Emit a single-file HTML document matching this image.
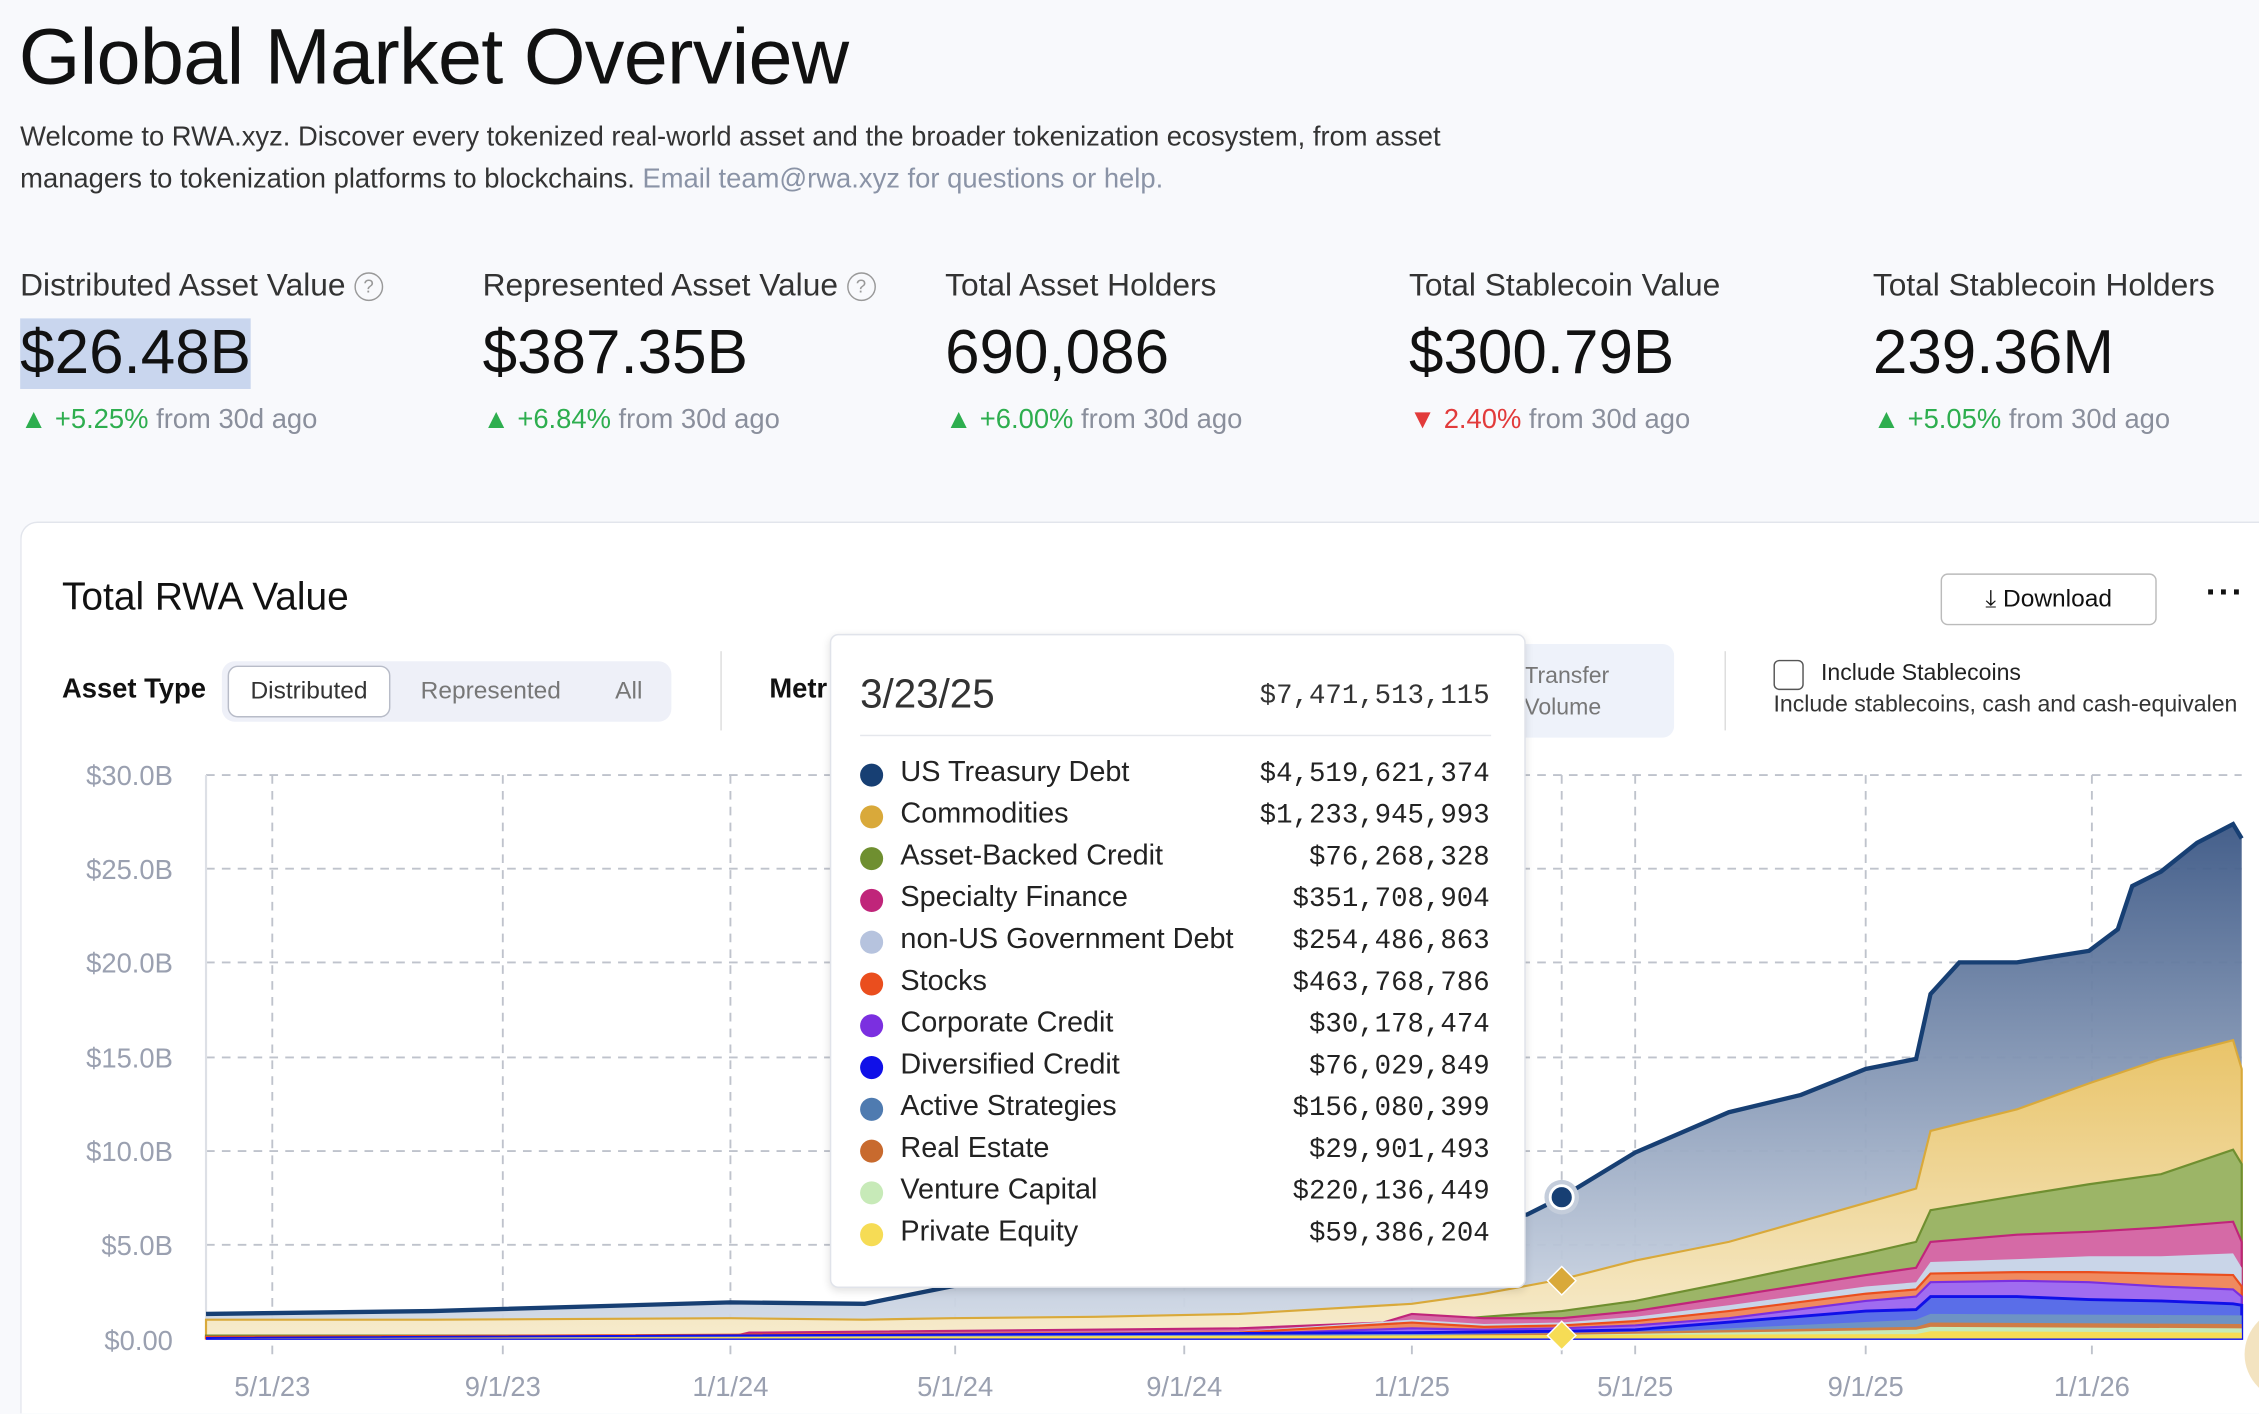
<!DOCTYPE html>
<html><head><meta charset="utf-8"><style>
html,body{margin:0;padding:0;width:2259px;height:1414px;overflow:hidden;background:#f8f9fc;}
#w{position:absolute;left:0;top:0;width:1568px;height:981px;overflow:hidden;transform:scale(1.44069);transform-origin:0 0;font-family:"Liberation Sans",sans-serif;color:#111;}
.a{position:absolute;white-space:nowrap;}
.lab{font-size:22px;color:#333;}
.val{font-size:43px;color:#111;}
.chg{font-size:19px;color:#8a8f9c;}
.g{color:#2eae4f}.r{color:#e23b3b}
.q{display:inline-block;width:18px;height:18px;border:1.5px solid #999;border-radius:50%;font-size:13px;text-align:center;line-height:18px;color:#999;vertical-align:2px;margin-left:6px}
.row{position:absolute;left:597px;width:440px;height:26px;font-size:20px;color:#222;white-space:nowrap;}
.row i{position:absolute;left:0;top:5px;width:16px;height:16px;border-radius:50%}
.row span{position:absolute;left:28px;top:0}
.row b{position:absolute;left:200px;top:1px;width:237px;text-align:right;font-weight:normal;font-family:"Liberation Mono",monospace;font-size:19px}
</style></head><body><div id="w">
<div class="a" style="left:13px;top:7px;font-size:55px;letter-spacing:-0.5px">Global Market Overview</div>
<div class="a" style="left:14px;top:81px;font-size:19px;color:#333;line-height:29px">Welcome to RWA.xyz. Discover every tokenized real-world asset and the broader tokenization ecosystem, from asset<br>managers to tokenization platforms to blockchains. <span style="color:#8a93a6">Email team@rwa.xyz for questions or help.</span></div>

<div class="a lab" style="left:14px;top:185px">Distributed Asset Value<span class="q">?</span></div>
<div class="a val" style="left:14px;top:221px;background:#c9d6ee">$26.48B</div>
<div class="a chg" style="left:14px;top:281px"><span class="g">▲ +5.25%</span> from 30d ago</div>
<div class="a lab" style="left:335px;top:185px">Represented Asset Value<span class="q">?</span></div>
<div class="a val" style="left:335px;top:221px">$387.35B</div>
<div class="a chg" style="left:335px;top:281px"><span class="g">▲ +6.84%</span> from 30d ago</div>
<div class="a lab" style="left:656px;top:185px">Total Asset Holders</div>
<div class="a val" style="left:656px;top:221px">690,086</div>
<div class="a chg" style="left:656px;top:281px"><span class="g">▲ +6.00%</span> from 30d ago</div>
<div class="a lab" style="left:978px;top:185px">Total Stablecoin Value</div>
<div class="a val" style="left:978px;top:221px">$300.79B</div>
<div class="a chg" style="left:978px;top:281px"><span class="r">▼ 2.40%</span> from 30d ago</div>
<div class="a lab" style="left:1300px;top:185px">Total Stablecoin Holders</div>
<div class="a val" style="left:1300px;top:221px">239.36M</div>
<div class="a chg" style="left:1300px;top:281px"><span class="g">▲ +5.05%</span> from 30d ago</div>

<div class="a" style="left:14px;top:362px;width:1553px;height:619px;background:#fff;border-left:1px solid #e2e5ec;border-top:1px solid #e2e5ec;border-top-left-radius:12px"></div>
<div class="a" style="left:43px;top:399px;font-size:27px">Total RWA Value</div>
<div class="a" style="left:1347px;top:398px;width:148px;height:34px;border:1.5px solid #bbb;border-radius:5px;background:#fff;font-size:17px;line-height:34px;text-align:center">⤓ Download</div>
<div class="a" style="left:1531px;top:398px;font-size:24px;font-weight:bold;letter-spacing:1px">···</div>
<div class="a" style="left:43px;top:468px;font-size:19px;font-weight:bold">Asset Type</div>
<div class="a" style="left:154px;top:459px;width:312px;height:42px;background:#eef0f8;border-radius:9px"></div>
<div class="a" style="left:158px;top:462px;width:111px;height:34px;background:#fff;border:1.5px solid #b8bcc8;border-radius:7px;font-size:17px;line-height:34px;text-align:center;color:#333">Distributed</div>
<div class="a" style="left:292px;top:470px;font-size:17px;color:#777">Represented</div>
<div class="a" style="left:427px;top:470px;font-size:17px;color:#777">All</div>
<div class="a" style="left:500px;top:452px;width:1px;height:55px;background:#ddd"></div>
<div class="a" style="left:534px;top:468px;font-size:19px;font-weight:bold">Metr</div>
<div class="a" style="left:1040px;top:447px;width:122px;height:65px;background:#eef2fa;border-radius:8px"></div>
<div class="a" style="left:1058px;top:459px;font-size:16px;color:#777;line-height:22px">Transfer<br>Volume</div>
<div class="a" style="left:1197px;top:452px;width:1px;height:55px;background:#ddd"></div>
<div class="a" style="left:1231px;top:458px;width:19px;height:19px;border:1.5px solid #555;border-radius:4px"></div>
<div class="a" style="left:1264px;top:459px;font-size:16px;color:#222">Include Stablecoins</div>
<div class="a" style="left:1231px;top:481px;font-size:16px;color:#333">Include stablecoins, cash and cash-equivalen</div>

<svg class="a" style="left:0;top:0" width="1568" height="981">
<defs>
<linearGradient id="nv" x1="0" y1="0" x2="0" y2="1"><stop offset="0" stop-color="#3b5785"/><stop offset="1" stop-color="#d5dde9"/></linearGradient>
<linearGradient id="gd" x1="0" y1="0" x2="0" y2="1"><stop offset="0" stop-color="#e9c469"/><stop offset="1" stop-color="#f6ebcd"/></linearGradient>
</defs>
<g stroke="#bfc3cc" stroke-width="1.3" stroke-dasharray="6,5">
<line x1="143" y1="538" x2="1556" y2="538"/><line x1="143" y1="603" x2="1556" y2="603"/><line x1="143" y1="668" x2="1556" y2="668"/><line x1="143" y1="734" x2="1556" y2="734"/><line x1="143" y1="799" x2="1556" y2="799"/><line x1="143" y1="864" x2="1556" y2="864"/>
<line x1="189" y1="538" x2="189" y2="945"/><line x1="349" y1="538" x2="349" y2="945"/><line x1="507" y1="538" x2="507" y2="945"/><line x1="663" y1="538" x2="663" y2="945"/><line x1="822" y1="538" x2="822" y2="945"/><line x1="980" y1="538" x2="980" y2="945"/><line x1="1135" y1="538" x2="1135" y2="945"/><line x1="1295" y1="538" x2="1295" y2="945"/><line x1="1452" y1="538" x2="1452" y2="945"/><line x1="1084" y1="538" x2="1084" y2="945"/>
</g>
<line x1="143" y1="538" x2="143" y2="930" stroke="#dde0e6" stroke-width="1.5"/>
<polygon fill="url(#nv)" opacity="0.95" points="143,912 300,910 507,904 600,905 660,893 760,875 860,862 980,852 1030,846 1060,843 1084,831 1135,800 1200,772 1250,760 1295,742 1330,735 1340,690 1360,668 1400,668 1450,660 1470,645 1480,615 1500,605 1525,585 1550,572 1556,582 1556,929 143,929"/>
<polyline fill="none" stroke="#173f73" stroke-width="3" points="143,912 300,910 507,904 600,905 660,893 760,875 860,862 980,852 1030,846 1060,843 1084,831 1135,800 1200,772 1250,760 1295,742 1330,735 1340,690 1360,668 1400,668 1450,660 1470,645 1480,615 1500,605 1525,585 1550,572 1556,582"/>
<polygon fill="url(#gd)" stroke="#d9a93a" stroke-width="1.5" points="143,916 300,916 507,915 600,916 660,915 760,914 860,912 980,905 1030,898 1084,888 1135,875 1200,862 1295,835 1330,825 1340,785 1400,770 1450,752 1500,735 1550,722 1556,742 1556,929 143,929"/>
<polygon fill="#9cb567" stroke="#6f8f30" stroke-width="1.5" points="143,927 507,927 660,926 860,925 980,918 1030,914 1084,910 1135,903 1200,890 1295,870 1330,862 1340,840 1400,830 1450,822 1500,815 1550,798 1556,808 1556,929 143,929"/>
<polygon fill="#d56aa6" stroke="#c0257a" stroke-width="1.5" points="143,928 507,928 520,925 860,922 960,918 980,912 1030,915 1084,915 1135,910 1200,900 1295,885 1330,880 1340,862 1400,857 1450,855 1500,852 1550,848 1556,862 1556,929 143,929"/>
<polygon fill="#c9d5e8" points="143,928 507,928 520,926 860,924 980,916 1030,919 1084,918 1135,914 1200,906 1295,893 1330,890 1340,876 1400,874 1450,872 1500,872 1550,870 1556,880 1556,929 143,929"/>
<polygon fill="#f08a5f" stroke="#ea4e1e" stroke-width="1.5" points="143,928 860,925 980,918 1030,921 1084,920 1135,917 1200,910 1295,898 1330,895 1340,884 1400,883 1450,883 1500,884 1550,885 1556,893 1556,929 143,929"/>
<polygon fill="#a06cf0" stroke="#7b2fe0" stroke-width="1.5" points="143,929 860,926 980,922 1030,923 1084,922 1135,920 1200,915 1295,903 1330,900 1340,890 1400,889 1450,890 1500,893 1550,895 1556,900 1556,929 143,929"/>
<polygon fill="#5a6ee8" stroke="#1010e8" stroke-width="2" points="143,929 980,925 1084,924 1135,923 1295,910 1330,909 1340,900 1400,900 1450,902 1500,903 1550,905 1556,906 1556,929 143,929"/>
<polygon fill="#6e93c4" points="143,929 980,926 1135,925 1330,916 1340,912 1556,913 1556,929 143,929"/>
<polygon fill="#cf7d45" points="143,929 980,927 1330,921 1340,918 1556,919 1556,929 143,929"/>
<polygon fill="#c7eab8" points="143,929 980,928 1330,923 1340,921 1556,922 1556,929 143,929"/>
<polygon fill="#f6dc55" points="143,929 1330,926 1340,924 1556,925 1556,929 143,929"/>
<circle cx="1084" cy="831" r="12" fill="#c4cddb"/><circle cx="1084" cy="831" r="8" fill="#173f73" stroke="#fff" stroke-width="2"/>
<rect x="1077" y="882" width="14" height="14" transform="rotate(45 1084 889)" fill="#d9a93a" stroke="#fff"/>
<rect x="1077" y="920" width="14" height="14" transform="rotate(45 1084 927)" fill="#f6dc55" stroke="#fff"/>
<g font-family="Liberation Sans" font-size="19" fill="#9aa0b0" text-anchor="end">
<text x="120" y="545">$30.0B</text><text x="120" y="610">$25.0B</text><text x="120" y="675">$20.0B</text><text x="120" y="741">$15.0B</text><text x="120" y="806">$10.0B</text><text x="120" y="871">$5.0B</text><text x="120" y="937">$0.00</text>
</g>
<g font-family="Liberation Sans" font-size="19" fill="#9aa0b0" text-anchor="middle">
<text x="189" y="969">5/1/23</text><text x="349" y="969">9/1/23</text><text x="507" y="969">1/1/24</text><text x="663" y="969">5/1/24</text><text x="822" y="969">9/1/24</text><text x="980" y="969">1/1/25</text><text x="1135" y="969">5/1/25</text><text x="1295" y="969">9/1/25</text><text x="1452" y="969">1/1/26</text>
</g>
<circle cx="1590" cy="940" r="32" fill="#f3e3c0"/>
</svg>

<div class="a" style="left:576px;top:440px;width:481px;height:452px;background:#fff;border:1px solid #e0e3ea;border-radius:6px;box-shadow:0 2px 6px rgba(0,0,0,0.12)"></div>
<div class="a" style="left:597px;top:466px;font-size:28px;color:#333">3/23/25</div>
<div class="a" style="left:800px;top:472px;width:234px;text-align:right;font-family:'Liberation Mono',monospace;font-size:19px;color:#333">$7,471,513,115</div>
<div class="a" style="left:597px;top:510px;width:438px;height:1px;background:#e5e7ec"></div>
<div class="row" style="top:525px"><i style="background:#173f73"></i><span>US Treasury Debt</span><b>$4,519,621,374</b></div>
<div class="row" style="top:554px"><i style="background:#d9a93a"></i><span>Commodities</span><b>$1,233,945,993</b></div>
<div class="row" style="top:583px"><i style="background:#6f8f30"></i><span>Asset-Backed Credit</span><b>$76,268,328</b></div>
<div class="row" style="top:612px"><i style="background:#c0257a"></i><span>Specialty Finance</span><b>$351,708,904</b></div>
<div class="row" style="top:641px"><i style="background:#b6c3de"></i><span>non-US Government Debt</span><b>$254,486,863</b></div>
<div class="row" style="top:670px"><i style="background:#ea4e1e"></i><span>Stocks</span><b>$463,768,786</b></div>
<div class="row" style="top:699px"><i style="background:#7b2fe0"></i><span>Corporate Credit</span><b>$30,178,474</b></div>
<div class="row" style="top:728px"><i style="background:#1010e8"></i><span>Diversified Credit</span><b>$76,029,849</b></div>
<div class="row" style="top:757px"><i style="background:#4f7bb0"></i><span>Active Strategies</span><b>$156,080,399</b></div>
<div class="row" style="top:786px"><i style="background:#c86a2e"></i><span>Real Estate</span><b>$29,901,493</b></div>
<div class="row" style="top:815px"><i style="background:#c7eab8"></i><span>Venture Capital</span><b>$220,136,449</b></div>
<div class="row" style="top:844px"><i style="background:#f6dc55"></i><span>Private Equity</span><b>$59,386,204</b></div>
</div></body></html>
